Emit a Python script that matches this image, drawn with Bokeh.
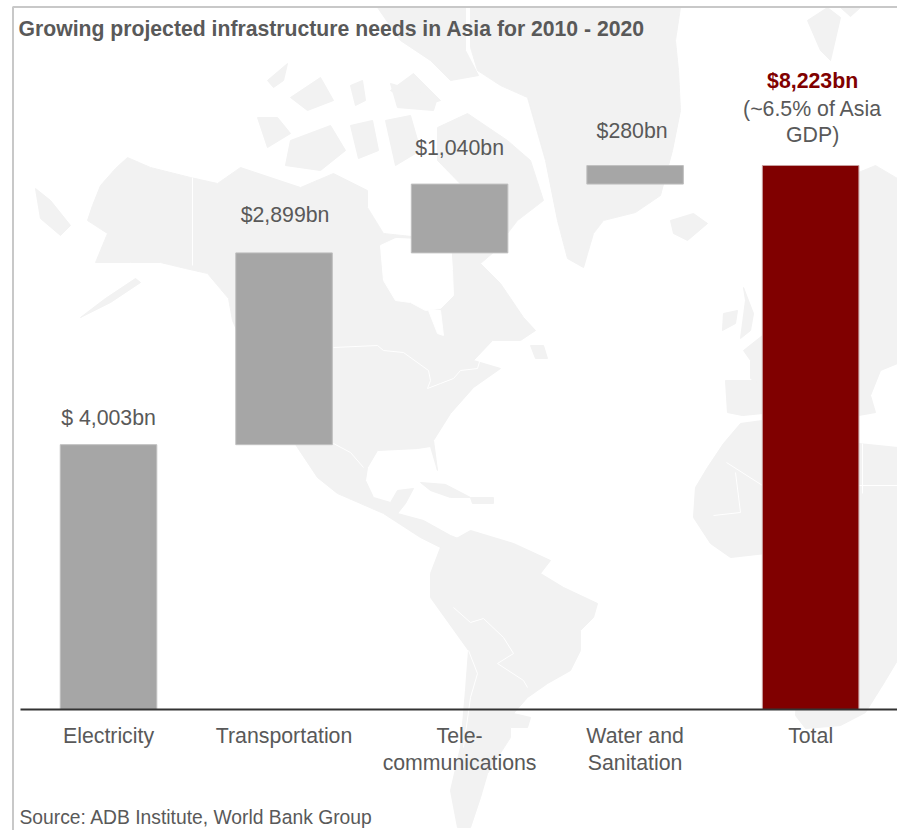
from bokeh.plotting import figure
from bokeh.models import ColumnDataSource, FixedTicker, Range1d
from bokeh.core.properties import value
from bokeh.embed import file_html
from bokeh.resources import INLINE
import numpy as np

# ---- data ----
categories = ["Electricity", "Transportation", "Tele-\ncommunications", "Water and\nSanitation", "Total"]
increments = [4003, 2899, 1040, 280]
total = 8223
label_texts = ["$ 4,003bn", "$2,899bn", "$1,040bn", "$280bn"]
total_label = "$8,223bn"
total_note = ["(~6.5% of Asia", "GDP)"]
title_text = "Growing projected infrastructure needs in Asia for 2010 - 2020"
source_text = "Source: ADB Institute, World Bank Group"

# ---- decorative world-map watermark, outlined in page pixels ----
land = [
    # North America
    [(92,205),(100,185),(115,168),(127,157),(150,167),(190,177),(217,183),(240,167),(300,187),(333,173),(367,190),(367,207),(383,233),(430,238),(470,245),(507,240),(480,263),(500,283),(523,317),(535,330),(520,340),(492,340),(473,360),(500,368),(473,387),(450,413),(433,440),(437,470),(430,446),(417,448),(377,450),(367,467),(365,480),(373,497),(390,502),(397,490),(413,488),(405,503),(397,513),(423,520),(450,535),(475,545),(468,556),(450,552),(420,537),(383,513),(337,493),(317,477),(297,447),(262,390),(232,320),(228,298),(207,273),(185,268),(160,262),(130,262),(95,262),(107,233),(87,220)],
    # Alaska peninsula and Aleutians
    [(35,188),(50,200),(70,225),(60,235),(40,218)],
    [(80,317),(105,298),(135,278),(140,282),(110,302)],
    # Greenland
    [(470,7),(680,7),(675,40),(678,70),(680,110),(672,150),(660,195),(635,212),(603,220),(593,233),(583,267),(567,258),(557,220),(545,160),(527,97),(500,85),(477,70),(470,47)],
    # Arctic islands
    [(377,7),(465,7),(465,50),(478,75),(450,80),(430,60),(400,40)],
    [(257,117),(277,117),(290,133),(267,147)],
    [(290,140),(330,125),(345,150),(320,170),(285,165)],
    [(267,80),(287,63),(283,80),(273,87)],
    [(290,97),(320,77),(333,100),(307,110)],
    [(390,90),(413,73),(440,100),(417,107)],
    [(350,85),(362,80),(365,100),(355,105)],
    [(390,83),(437,97),(433,110),(397,107)],
    [(350,125),(372,120),(378,150),(358,158)],
    [(385,120),(410,115),(420,150),(395,165)],
    [(437,127),(467,113),(507,140),(530,160),(543,200),(517,220),(507,233),(483,207),(437,160)],
    # Caribbean, Newfoundland
    [(420,482),(445,484),(470,497),(450,497),(430,490)],
    [(470,497),(493,497),(493,503),(472,503)],
    [(530,345),(543,345),(547,358),(535,358)],
    # South America
    [(440,547),(470,530),(513,543),(550,560),(540,573),(563,587),(597,603),(593,617),(580,630),(580,650),(570,670),(547,683),(527,697),(513,713),(530,717),(527,727),(510,727),(510,737),(487,773),(480,797),(470,827),(457,827),(450,790),(460,747),(465,690),(468,650),(430,597),(430,573)],
    # Africa
    [(762,420),(740,423),(723,443),(707,467),(695,487),(693,517),(710,543),(730,557),(765,553),(790,570),(800,640),(795,715),(805,728),(840,725),(865,712),(885,680),(897,660),(897,447),(858,443),(830,425),(790,420)],
    # Iberia, France, UK, Ireland, Iceland
    [(725,380),(762,380),(762,413),(742,415),(727,412)],
    [(743,350),(762,335),(762,385),(750,378),(750,360)],
    [(743,287),(753,313),(750,330),(740,338),(745,300)],
    [(723,313),(737,310),(735,323),(722,330)],
    [(670,220),(693,213),(707,223),(687,240),(673,233)],
    # Northern and eastern Europe
    [(858,172),(875,165),(897,178),(897,363),(880,370),(870,395),(875,412),(858,415)],
    # Svalbard, Novaya Zemlya
    [(807,20),(827,7),(840,17),(830,60),(820,50)],
    [(840,7),(860,7),(850,16)],
]
water = [
    # Hudson Bay and lakes
    [(383,280),(380,245),(395,238),(450,240),(452,270),(453,295),(440,308),(425,310),(410,302),(395,300)],
    [(428,310),(440,310),(443,335),(437,333)],
]
borders = [
    [(192,177),(192,265)],
    [(333,347),(377,345),(383,350),(403,352),(428,370),(430,380),(427,388),(440,383),(453,378),(460,370),(477,368),(480,358)],
    [(333,443),(350,452),(363,467)],
    [(453,607),(470,622),(483,618),(503,637),(513,653),(497,663),(523,680),(527,687)],
    [(468,650),(477,673),(470,697),(463,747)],
    [(726,462),(762,485)],
    [(735,472),(740,512),(713,515)],
    [(858,485),(897,485)],
    [(862,443),(862,493)],
]

# ---- derived from the data ----
tops = np.cumsum(increments)
bottoms = tops - np.array(increments)
idx = np.arange(len(increments))

GREY = "#a6a6a6"
RED = "#800000"
TEXT = "#595959"
FONT = "Liberation Sans"
SIZE = "21.3px"

p = figure(width=897, height=830, output_backend="svg", toolbar_location=None,
           x_range=Range1d(-0.6154, 4.4949), y_range=Range1d(-1829, 10717),
           min_border=0, outline_line_color=None, background_fill_color="white",
           border_fill_color="white")
p.styles = {"position": "absolute", "left": "0px", "top": "0px"}
p.ygrid.visible = False
p.xgrid.visible = False
p.yaxis.visible = False

p.extra_x_ranges["px"] = Range1d(0, 897)
p.extra_y_ranges["px"] = Range1d(830, 0)

def px(shapes):
    return [[a for a, _ in s] for s in shapes], [[b for _, b in s] for s in shapes]

xs, ys = px(land)
p.patches(xs, ys, x_range_name="px", y_range_name="px", fill_color="#f2f2f2", line_color="#f2f2f2", line_width=1)
xs, ys = px(water)
p.patches(xs, ys, x_range_name="px", y_range_name="px", fill_color="white", line_color="white", line_width=1)
xs, ys = px(borders)
p.multi_line(xs, ys, x_range_name="px", y_range_name="px", line_color="white", line_width=1)

# frame lines of the panel
p.line([12.5, 12.5, 897], [830, 6.5, 6.5], x_range_name="px", y_range_name="px", line_color="#c8c8c8", line_width=2)

# bars
src = ColumnDataSource(dict(x=idx, bottom=bottoms, top=tops, label=label_texts))
p.vbar(x="x", bottom="bottom", top="top", width=0.55, source=src, fill_color=GREY, line_color="#c0c0c0", line_width=1)
p.vbar(x=[4], bottom=[0], top=[total], width=0.55, fill_color=RED, line_color="#c9a0a0", line_width=1)

# value labels
label_gaps = [27, 38, 36, 35]
label_shift = [0, 1, 0, -3]
p.text(x=idx, y=tops, text=label_texts, x_offset=label_shift, y_offset=[-g for g in label_gaps], text_align="center",
       text_baseline="middle", text_color=TEXT, text_font_size=SIZE, text_font=value(FONT))
p.text(x=[4], y=[total], text=[total_label], x_offset=[2], y_offset=[-84], text_align="center", text_baseline="middle",
       text_color=RED, text_font_size=SIZE, text_font_style="bold", text_font=value(FONT))
p.text(x=[4, 4], y=[total, total], text=total_note, x_offset=[2, 2], y_offset=[-56, -30], text_align="center",
       text_baseline="middle", text_color=TEXT, text_font_size=SIZE, text_font=value(FONT))

# title and source
p.text(x=[18], y=[28], text=[title_text], x_range_name="px", y_range_name="px", text_baseline="middle",
       text_color=TEXT, text_font_size="21.2px", text_font_style="bold", text_font=value(FONT))
p.text(x=[19], y=[817], text=[source_text], x_range_name="px", y_range_name="px", text_baseline="middle",
       text_color=TEXT, text_font_size="19.3px", text_font=value(FONT))

# category axis on the zero line
ax = p.xaxis[0]
ax.fixed_location = 0
ax.bounds = (-0.5, 4.4949)
ax.ticker = FixedTicker(ticks=list(range(len(categories))))
ax.major_label_overrides = {i: c for i, c in enumerate(categories)}
ax.major_tick_line_color = None
ax.minor_tick_line_color = None
ax.axis_line_color = "#333333"
ax.axis_line_width = 2
ax.major_label_standoff = 9
ax.major_label_text_font = FONT
ax.major_label_text_font_size = SIZE
ax.major_label_text_color = TEXT
ax.major_label_text_line_height = 1.09

open("out.html", "w").write(file_html(p, INLINE))
